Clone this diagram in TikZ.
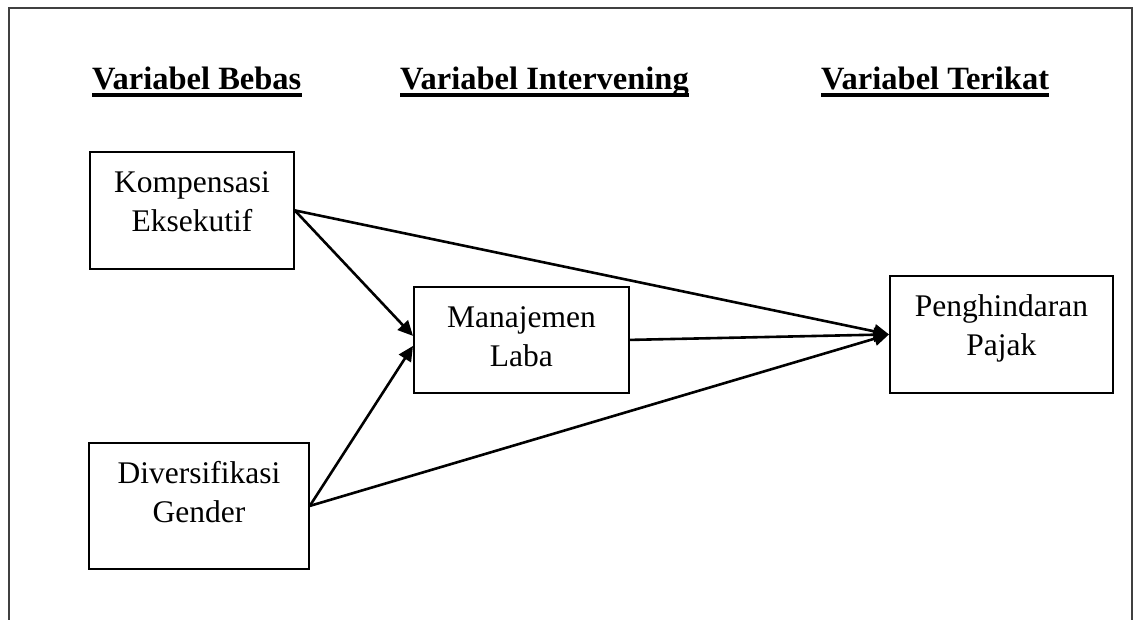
\documentclass[tikz,border=0pt]{standalone}
\usepackage{fontspec}
\setmainfont{Liberation Serif}
\usetikzlibrary{arrows.meta}

\begin{document}
\begin{tikzpicture}[x = 1pt, y = -1pt,
			box/.style = {draw, line width = 1.8pt, anchor = north west, align = center, inner xsep = 4pt, inner ysep = 19pt, text height = 22pt, font = \fontsize{31.5}{39}\selectfont},
			head/.style = {anchor = base west, inner sep = 0pt, font = \fontsize{32.5}{38}\selectfont\bfseries},
			arr/.style = {line width = 2.6pt, -{Triangle[length = 15pt, width = 14pt]}}]
			\useasboundingbox (0,0) rectangle (1139,619);
			\draw[line width = 1.4pt, black!75] (9,630) -- (9,8) -- (1132,8) -- (1132,630);
			\node (hb) at (92,89) [head] {Variabel Bebas};
			\node (hi) at (400,89) [head] {Variabel Intervening};
			\node (ht) at (821,89) [head] {Variabel Terikat};
			\draw[line width = 3.4pt] ([yshift = -6pt]hb.base west) -- ([yshift = -6pt]hb.base east);
			\draw[line width = 3.4pt] ([yshift = -6pt]hi.base west) -- ([yshift = -6pt]hi.base east);
			\draw[line width = 3.4pt] ([yshift = -6pt]ht.base west) -- ([yshift = -6pt]ht.base east);
			\node (k) at (89,151) [box, text width = 196pt, text depth = 57pt] {Kompensasi\\Eksekutif};
			\node (d) at (88,442) [box, text width = 212pt, text depth = 66pt] {Diversifikasi\\Gender};
			\node (m) at (413,286) [box, text width = 207pt, text depth = 46pt] {Manajemen\\Laba};
			\node (p) at (889,275) [box, text width = 215pt, text depth = 57pt] {Penghindaran\\Pajak};
			\draw[arr] (k.east) -- (p.west);
			\draw[arr] (k.east) -- ([yshift = 4pt]m.west);
			\draw[arr] (d.east) -- ([yshift = -6pt]m.west);
			\draw[arr] (d.east) -- (p.west);
			\draw[arr] (m.east) -- (p.west);
			\end{tikzpicture}
\end{document}
